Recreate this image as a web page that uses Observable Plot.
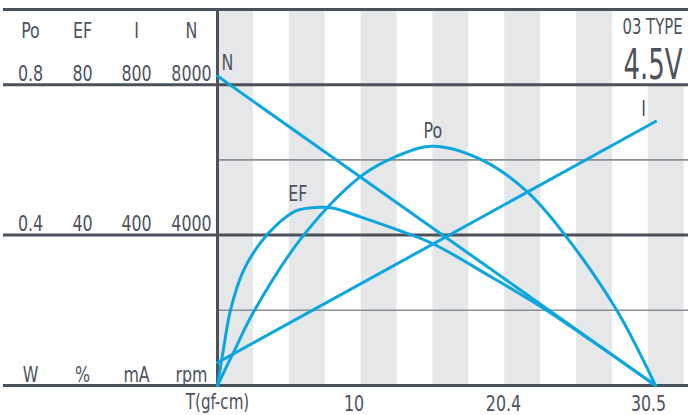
<!DOCTYPE html>
<html><head><meta charset="utf-8">
<script src="https://cdn.jsdelivr.net/npm/d3@7"></script>
<script src="https://cdn.jsdelivr.net/npm/@observablehq/plot@0.6"></script>
<style>
html,body{margin:0;padding:0;background:#fff;}
#chart svg{display:block;}
</style>
</head><body><div id="chart"></div>
<script>
// ---- data ----
const columns = ["Po", "EF", "I", "N"];
const units = ["W", "%", "mA", "rpm"];
const poTicks = [0.4, 0.8];
const efTicks = [40, 80];
const iTicks = [400, 800];
const nTicks = [4000, 8000];
const xTicks = [10, 20.4, 30.5];
const xTitle = "T(gf-cm)";
const typeLabel = "03 TYPE";
const voltLabel = "4.5V";
const bandStarts = [0, 5, 10, 15, 20, 25, 30];
const bandWidth = 2.5;

const poT = [0, 1.2, 2.5, 6.0, 10.0, 12.3, 15.0, 18.5, 21.6, 24.2, 27.8, 30.5];
const poW = [0, 0.095, 0.195, 0.40, 0.557, 0.607, 0.636, 0.598, 0.514, 0.40, 0.20, 0];
const efT = [0, 0.45, 0.9, 1.8, 3.0, 4.2, 5.5, 7.2, 8.0, 10.0, 12.3, 15.0, 19.0, 22.5, 26.0, 30.5];
const efPct = [0, 10.5, 20, 30.5, 38, 43, 46.5, 47.4, 47.2, 44.8, 41.7, 37.7, 29, 21, 12, 0];
const iT = [0, 30.5];
const iMA = [61, 702];
const nT = [0, 30.5];
const nRPM = [8230, 0];

// ---- build ----
const allTicks = [poTicks, efTicks, iTicks, nTicks];
const factor = allTicks.map(t => t[1] / poTicks[1]);
const mk = (ts, vs, f) => ts.map((t, i) => ({t, v: vs[i] / f}));
const po = mk(poT, poW, factor[0]);
const ef = mk(efT, efPct, factor[1]);
const cur = mk(iT, iMA, factor[2]);
const spd = mk(nT, nRPM, factor[3]);

const pxPerUnit = 14.361;
const xMin = -217 / pxPerUnit, xMax = 471 / pxPerUnit;
const ink = "#4b525b";
const blue = "#0aa6e0";
const font = "'Liberation Sans Narrow', 'DejaVu Sans Condensed', sans-serif";
const colDx = [-187, -135, -81, -26];
const fs = 22;

const colMarks = columns.flatMap((c, k) => [
  Plot.text([c], {x: 0, y: 1, text: d => d, dx: colDx[k], dy: 28, lineAnchor: "bottom", fill: ink, fontSize: fs}),
  Plot.text(allTicks[k], {x: 0, y: (d, i) => poTicks[i], text: d => String(d), dx: colDx[k], dy: -4, lineAnchor: "bottom", fill: ink, fontSize: fs}),
  Plot.text([units[k]], {x: 0, y: 0, text: d => d, dx: colDx[k], dy: -4, lineAnchor: "bottom", fill: ink, fontSize: fs})
]);

const peak = arr => arr.reduce((a, b) => (b.v > a.v ? b : a));

const chart = Plot.plot({
  width: 688, height: 415,
  marginLeft: 0, marginRight: 0, marginTop: 9, marginBottom: 30,
  x: {domain: [xMin, xMax], axis: null},
  y: {domain: [0, 1], axis: null},
  style: {fontFamily: font, background: "white", overflow: "visible"},
  marks: [
    Plot.rect(bandStarts, {x1: d => d, x2: d => d + bandWidth, y1: 0, y2: 1, fill: "#e6e7e9"}),
    Plot.rect([0], {x1: bandStarts[bandStarts.length - 2] + bandWidth, x2: xMax, y1: poTicks[1], y2: 1, fill: "white"}),
    Plot.ruleY([poTicks[0] / 2, (poTicks[0] + poTicks[1]) / 2], {x1: 0, x2: xMax, stroke: "#8b8e93", strokeWidth: 1.6}),
    Plot.ruleY([0, poTicks[0], poTicks[1], 1], {x1: xMin + 3 / pxPerUnit, x2: xMax, stroke: ink, strokeWidth: 3}),
    Plot.ruleX([0], {y1: 0, y2: 1, stroke: ink, strokeWidth: 3}),
    Plot.line(spd, {x: "t", y: "v", stroke: blue, strokeWidth: 3}),
    Plot.line(cur, {x: "t", y: "v", stroke: blue, strokeWidth: 3}),
    Plot.line(po, {x: "t", y: "v", stroke: blue, strokeWidth: 3, curve: "catmull-rom"}),
    Plot.line(ef, {x: "t", y: "v", stroke: blue, strokeWidth: 3, curve: "catmull-rom"}),
    Plot.text([spd[0]], {x: "t", y: "v", text: () => columns[3], dx: 4, dy: -6, textAnchor: "start", lineAnchor: "bottom", fill: ink, fontSize: fs}),
    Plot.text([cur[cur.length - 1]], {x: "t", y: "v", text: () => columns[2], dx: -12, dy: -6, lineAnchor: "bottom", fill: ink, fontSize: fs}),
    Plot.text([peak(po)], {x: "t", y: "v", text: () => columns[0], dx: 0, dy: -8, lineAnchor: "bottom", fill: ink, fontSize: fs}),
    Plot.text([peak(ef)], {x: "t", y: "v", text: () => columns[1], dx: -23, dy: -6, lineAnchor: "bottom", fill: ink, fontSize: fs}),
    ...colMarks,
    Plot.text(xTicks, {x: d => d, y: 0, text: d => String(d), dx: -7, dy: 25, lineAnchor: "bottom", fill: ink, fontSize: fs}),
    Plot.text([xTitle], {x: 0, y: 0, text: d => d, dy: 23, lineAnchor: "bottom", fill: ink, fontSize: 21}),
    Plot.text([typeLabel], {x: xMax, y: 1, text: d => d, dx: -6, dy: 24, textAnchor: "end", lineAnchor: "bottom", fill: ink, fontSize: 21}),
    Plot.text([voltLabel], {x: xMax, y: 1, text: d => d, dx: -6, dy: 69, textAnchor: "end", lineAnchor: "bottom", fill: ink, fontSize: 43})
  ]
});
document.getElementById("chart").appendChild(chart);
// condense glyphs horizontally to mimic the narrow typeface of the original
const fixed = {[voltLabel]: 59, [typeLabel]: 60};
d3.select(chart).selectAll("text").each(function() {
  const s = this.textContent;
  if (!s) return;
  const L = this.getComputedTextLength();
  if (!L) return;
  const sx = fixed[s] !== undefined ? fixed[s] / L : 0.8;
  const x = this.getAttribute("x") || 0, y = this.getAttribute("y") || 0;
  this.removeAttribute("x");
  this.removeAttribute("y");
  const t = this.getAttribute("transform") || "";
  this.setAttribute("transform", `${t} translate(${x},${y}) scale(${sx},1)`.trim());
});
</script>
</body></html>
